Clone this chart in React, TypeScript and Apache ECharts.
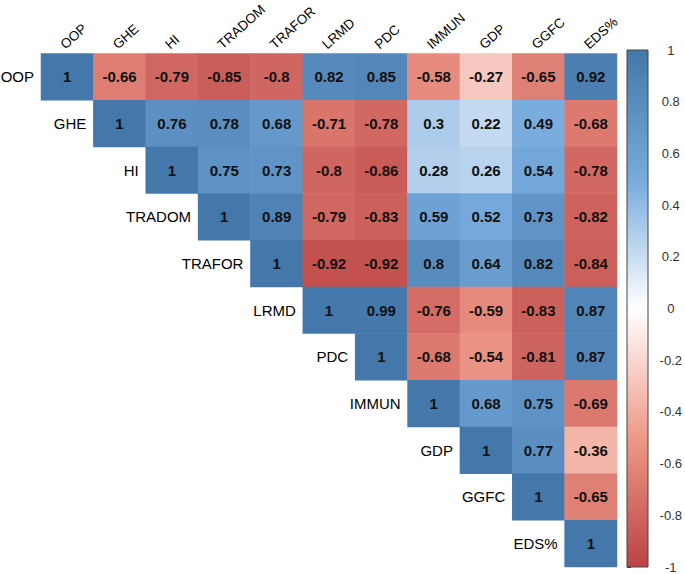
import React, { useEffect, useRef } from "react";
import * as echarts from "echarts";

const variables = ["OOP", "GHE", "HI", "TRADOM", "TRAFOR", "LRMD", "PDC", "IMMUN", "GDP", "GGFC", "EDS%"];

// Upper-triangle correlation values, each row starts at the diagonal
const rowOOP = [1, -0.66, -0.79, -0.85, -0.8, 0.82, 0.85, -0.58, -0.27, -0.65, 0.92];
const rowGHE = [1, 0.76, 0.78, 0.68, -0.71, -0.78, 0.3, 0.22, 0.49, -0.68];
const rowHI = [1, 0.75, 0.73, -0.8, -0.86, 0.28, 0.26, 0.54, -0.78];
const rowTRADOM = [1, 0.89, -0.79, -0.83, 0.59, 0.52, 0.73, -0.82];
const rowTRAFOR = [1, -0.92, -0.92, 0.8, 0.64, 0.82, -0.84];
const rowLRMD = [1, 0.99, -0.76, -0.59, -0.83, 0.87];
const rowPDC = [1, -0.68, -0.54, -0.81, 0.87];
const rowIMMUN = [1, 0.68, 0.75, -0.69];
const rowGDP = [1, 0.77, -0.36];
const rowGGFC = [1, -0.65];
const rowEDS = [1];

const rows = [rowOOP, rowGHE, rowHI, rowTRADOM, rowTRAFOR, rowLRMD, rowPDC, rowIMMUN, rowGDP, rowGGFC, rowEDS];

const paletteColors = ["#BB4444", "#EE9988", "#FFFFFF", "#77AADD", "#4477AA"];

const FAMILY = "'Liberation Sans', Arial, sans-serif";

export default function App() {
  const ref = useRef<HTMLDivElement>(null);

  useEffect(() => {
    if (!ref.current) return;
    const chart = echarts.init(ref.current, null, { renderer: "svg" });

    const heatData: [number, number, number][] = [];
    rows.forEach((r, i) => {
      r.forEach((v, k) => {
        heatData.push([i + k, i, v]);
      });
    });

    const gridLeft = 41;
    const gridTop = 50;
    const gridW = 576;
    const gridH = 517;
    const barLeft = 627;
    const barW = 21;

    chart.setOption({
      animation: false,
      backgroundColor: "#ffffff",
      textStyle: { fontFamily: FAMILY },
      grid: [
        { left: gridLeft, top: gridTop, width: gridW, height: gridH },
        { left: barLeft, top: gridTop, width: barW, height: gridH },
      ],
      xAxis: [
        {
          type: "category",
          gridIndex: 0,
          data: variables,
          position: "top",
          axisLine: { show: false },
          axisTick: { show: false },
          splitLine: { show: false },
          axisLabel: {
            show: true,
            interval: 0,
            rotate: -42,
            align: "left",
            verticalAlign: "bottom",
            margin: 2,
            fontSize: 13.5,
            color: "#000",
            fontFamily: FAMILY,
          },
        },
        { type: "value", gridIndex: 1, show: false, min: 0, max: 1 },
      ],
      yAxis: [
        {
          type: "category",
          gridIndex: 0,
          data: variables,
          inverse: true,
          axisLine: { show: false },
          axisTick: { show: false },
          axisLabel: { show: false },
          splitLine: { show: false },
        },
        {
          type: "value",
          gridIndex: 1,
          position: "right",
          min: -1,
          max: 1,
          interval: 0.2,
          axisLine: { show: false },
          splitLine: { show: false },
          axisTick: { show: true, length: 4, lineStyle: { color: "#333" } },
          axisLabel: {
            fontSize: 13,
            color: "#333",
            align: "center",
            margin: 26,
            formatter: (v: number) => String(Math.round(v * 10) / 10),
          },
        },
      ],
      visualMap: {
        show: false,
        type: "continuous",
        min: -1,
        max: 1,
        dimension: 2,
        seriesIndex: 0,
        inRange: { color: paletteColors },
      },
      graphic: [
        {
          type: "rect",
          shape: { x: barLeft, y: gridTop, width: barW, height: gridH },
          style: {
            fill: new echarts.graphic.LinearGradient(0, 0, 0, 1, [
              { offset: 0, color: paletteColors[4] },
              { offset: 0.25, color: paletteColors[3] },
              { offset: 0.5, color: paletteColors[2] },
              { offset: 0.75, color: paletteColors[1] },
              { offset: 1, color: paletteColors[0] },
            ]),
            stroke: "#444",
            lineWidth: 1,
          },
          z: 10,
        },
      ],
      series: [
        {
          type: "heatmap",
          xAxisIndex: 0,
          yAxisIndex: 0,
          data: heatData,
          itemStyle: { borderWidth: 0 },
          emphasis: { disabled: true },
          label: {
            show: true,
            fontSize: 15,
            fontWeight: "bold",
            color: "#111",
            formatter: (p: any) => String(p.value[2]),
          },
        },
        {
          type: "custom",
          xAxisIndex: 0,
          yAxisIndex: 0,
          coordinateSystem: "cartesian2d",
          clip: false,
          silent: true,
          data: variables.map((_, i) => [i, i]),
          encode: { x: 0, y: 1 },
          renderItem: (params: any, api: any) => {
            const idx = params.dataIndex;
            const p = api.coord([idx, idx]);
            const s = api.size([1, 1]);
            return {
              type: "text",
              x: p[0] - s[0] / 2 - 7,
              y: p[1],
              style: {
                text: variables[idx],
                textAlign: "right",
                textVerticalAlign: "middle",
                fill: "#000",
                font: "15px " + FAMILY,
              },
            };
          },
        },
      ],
    });

    return () => chart.dispose();
  }, []);

  return (
    <div
      ref={ref}
      style={{ position: "fixed", left: 0, top: 0, width: 685, height: 574 }}
    />
  );
}
